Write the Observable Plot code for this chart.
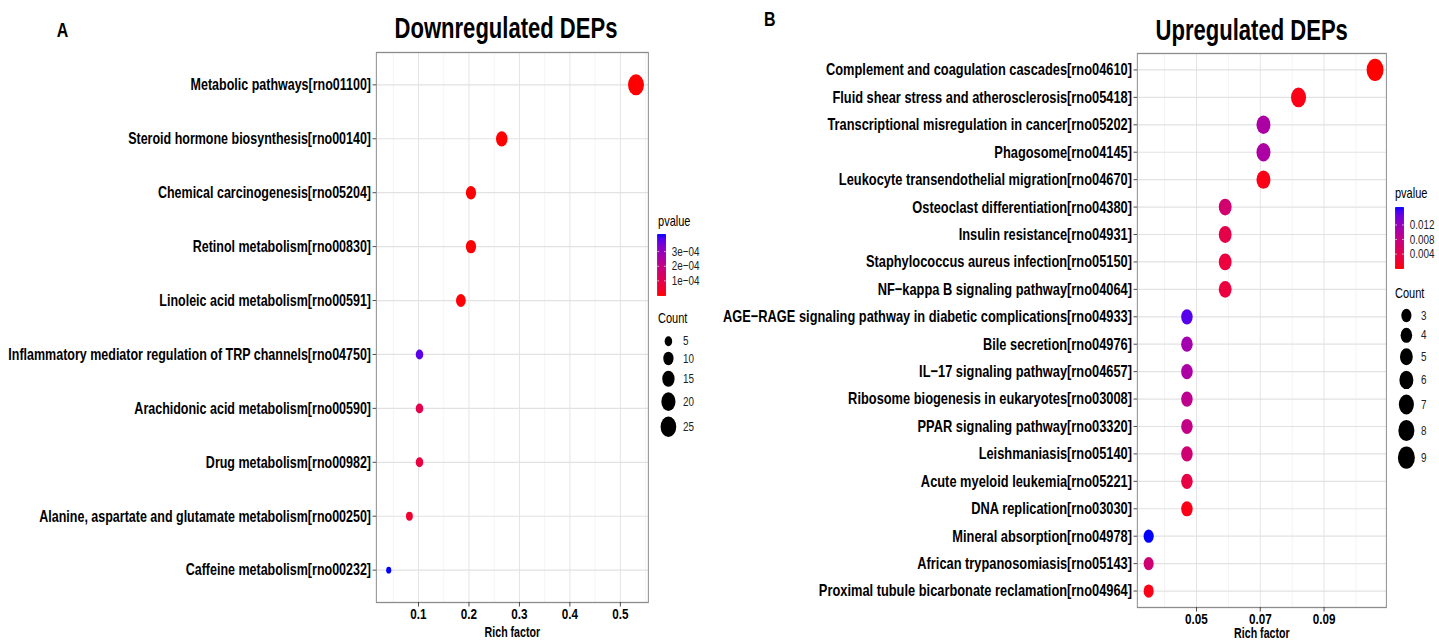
<!DOCTYPE html>
<html><head><meta charset="utf-8">
<script src="https://cdn.jsdelivr.net/npm/d3@7"></script>
<script src="https://cdn.jsdelivr.net/npm/@observablehq/plot@0.6"></script>
<style>
html,body{margin:0;padding:0;background:#fff;overflow:hidden;width:1439px;height:641px;}
#stage{position:absolute;left:0;top:0;width:1893px;height:641px;transform:scaleX(0.76);transform-origin:0 0;font-family:"Liberation Sans",Arial,sans-serif;color:#000;}
.abs{position:absolute;white-space:nowrap;line-height:1;}
.c{transform:translate(-50%,-50%);}
.m{transform:translate(0,-50%);}
</style></head><body><div id="stage"></div>
<script>
// ---------- data: Downregulated DEPs (panel A) ----------
const downPathways = [
  "Metabolic pathways[rno01100]",
  "Steroid hormone biosynthesis[rno00140]",
  "Chemical carcinogenesis[rno05204]",
  "Retinol metabolism[rno00830]",
  "Linoleic acid metabolism[rno00591]",
  "Inflammatory mediator regulation of TRP channels[rno04750]",
  "Arachidonic acid metabolism[rno00590]",
  "Drug metabolism[rno00982]",
  "Alanine, aspartate and glutamate metabolism[rno00250]",
  "Caffeine metabolism[rno00232]"
];
const downRich = [0.531, 0.265, 0.204, 0.204, 0.184, 0.102, 0.102, 0.102, 0.082, 0.041];
const downCount = [26, 13, 10, 10, 9, 5, 5, 5, 4, 2];
const downPvalue = [1e-12, 1e-9, 2e-6, 2e-6, 4e-6, 3.8e-4, 1.0e-4, 8e-5, 5e-5, 4.17e-4];
const downXTicks = [0.1, 0.2, 0.3, 0.4, 0.5];
const downXMinor = [0.05, 0.15, 0.25, 0.35, 0.45, 0.55];
const downPTicks = [1e-4, 2e-4, 3e-4];
const downCountTicks = [5, 10, 15, 20, 25];

// ---------- data: Upregulated DEPs (panel B) ----------
const upPathways = [
  "Complement and coagulation cascades[rno04610]",
  "Fluid shear stress and atherosclerosis[rno05418]",
  "Transcriptional misregulation in cancer[rno05202]",
  "Phagosome[rno04145]",
  "Leukocyte transendothelial migration[rno04670]",
  "Osteoclast differentiation[rno04380]",
  "Insulin resistance[rno04931]",
  "Staphylococcus aureus infection[rno05150]",
  "NF\u2212kappa B signaling pathway[rno04064]",
  "AGE\u2212RAGE signaling pathway in diabetic complications[rno04933]",
  "Bile secretion[rno04976]",
  "IL\u221217 signaling pathway[rno04657]",
  "Ribosome biogenesis in eukaryotes[rno03008]",
  "PPAR signaling pathway[rno03320]",
  "Leishmaniasis[rno05140]",
  "Acute myeloid leukemia[rno05221]",
  "DNA replication[rno03030]",
  "Mineral absorption[rno04978]",
  "African trypanosomiasis[rno05143]",
  "Proximal tubule bicarbonate reclamation[rno04964]"
];
const upRich = [0.106, 0.082, 0.071, 0.071, 0.071, 0.059, 0.059, 0.059, 0.059,
  0.047, 0.047, 0.047, 0.047, 0.047, 0.047, 0.047, 0.047, 0.035, 0.035, 0.035];
const upCount = [9, 7, 6, 6, 6, 5, 5, 5, 5, 4, 4, 4, 4, 4, 4, 4, 4, 3, 3, 3];
const upPvalue = [0.00005, 0.0007, 0.0105, 0.0105, 0.0007, 0.0065, 0.0039, 0.0030, 0.0030,
  0.0155, 0.0112, 0.0105, 0.0088, 0.0082, 0.0068, 0.0035, 0.0007, 0.0168, 0.0068, 0.0007];
const upXTicks = [0.05, 0.07, 0.09];
const upXMinor = [0.04, 0.06, 0.08, 0.10];
const upPTicks = [0.004, 0.008, 0.012];
const upCountTicks = [3, 4, 5, 6, 7, 8, 9];

// ---------- rendering ----------
const stage = document.getElementById("stage");
const FONT = '"Liberation Sans", Arial, sans-serif';
const svgStyle = {background: "transparent", fontFamily: FONT, overflow: "visible", color: "#000"};

function place(node, left, top) {
  node.style.position = "absolute";
  node.style.left = left + "px";
  node.style.top = top + "px";
  stage.appendChild(node);
}
function label(text, x, y, cls, size, weight) {
  const d = document.createElement("div");
  d.className = "abs " + cls;
  d.textContent = text;
  d.style.left = x + "px";
  d.style.top = y + "px";
  d.style.fontSize = size + "px";
  d.style.fontWeight = weight;
  stage.appendChild(d);
}

function scalesFor(p, count, rRange) {
  return {
    color: {type: "linear", domain: d3.extent(p), range: ["red", "blue"], interpolate: d3.interpolateLab},
    r: {type: "pow", exponent: 0.5, domain: d3.extent(count), range: rRange}
  };
}

function panel(cfg) {
  const data = cfg.names.map((n, i) => ({name: n, rich: cfg.rich[i], count: cfg.count[i], p: cfg.p[i]}));
  const [lo, hi] = d3.extent(cfg.rich);
  const pad = (hi - lo) * 0.05;
  const dom = [lo - pad, hi + pad];
  const minor = cfg.minor.filter(v => v >= dom[0] && v <= dom[1]);
  const sc = scalesFor(cfg.p, cfg.count, cfg.rRange);
  return Plot.plot({
    width: cfg.W, height: 641,
    marginLeft: cfg.ml, marginRight: cfg.mr, marginTop: cfg.mt, marginBottom: cfg.mb,
    style: svgStyle,
    x: {domain: dom},
    y: {type: "point", domain: cfg.names, padding: 0.6, round: false},
    color: sc.color,
    r: sc.r,
    marks: [
      Plot.ruleX(minor, {stroke: "#f0f0f0", strokeWidth: 0.8}),
      Plot.ruleX(cfg.ticks, {stroke: "#e2e2e2", strokeWidth: 1.2}),
      Plot.ruleY(cfg.names, {stroke: "#e2e2e2", strokeWidth: 1.2}),
      Plot.dot(data, {x: "rich", y: "name", r: "count", fill: "p"}),
      Plot.frame({stroke: "#8c8c8c", strokeWidth: 1.3}),
      Plot.axisY({tickSize: 4.5, tickPadding: 2.5, fontSize: cfg.yFont, fontWeight: "bold", label: null, stroke: "#333", fill: "#000"}),
      Plot.axisX({ticks: cfg.ticks, tickFormat: d => String(d), tickSize: 4.5, tickPadding: cfg.tickPad, fontSize: 15.4, fontWeight: "bold", label: null, stroke: "#333", fill: "#000"}),
      Plot.text(["Rich factor"], {frameAnchor: "bottom", dy: cfg.labelDy, fontSize: 14, fontWeight: "bold", fill: "#000"})
    ]
  });
}

function colorbar(p, count, rRange, ticks, fmt) {
  const sc = scalesFor(p, count, rRange);
  const [a, b] = d3.extent(p);
  const bins = d3.range(160).map(i => a + (b - a) * (i + 0.5) / 160);
  const bh = 61;
  return Plot.plot({
    width: 70, height: bh, margin: 0,
    style: svgStyle,
    x: {type: "identity", axis: null},
    y: {domain: [a, b], range: [bh, 0], axis: null},
    color: sc.color,
    marks: [
      Plot.ruleY(bins, {y: d => d, x1: 0, x2: 11, stroke: d => d, strokeWidth: 1.2}),
      Plot.ruleY(ticks, {y: d => d, x1: 0, x2: 2.2, stroke: "white", strokeWidth: 0.8}),
      Plot.ruleY(ticks, {y: d => d, x1: 8.8, x2: 11, stroke: "white", strokeWidth: 0.8}),
      Plot.text(ticks, {y: d => d, x: 18.4, text: fmt, textAnchor: "start", fontSize: 13, fill: "#222"})
    ]
  });
}

function sizeLegend(p, count, rRange, ticks, y0) {
  const sc = scalesFor(p, count, rRange);
  const rs = d3.scalePow().exponent(0.5).domain(sc.r.domain).range(rRange);
  let y = y0;
  const items = ticks.map((c, i) => {
    if (i > 0) y += rs(ticks[i - 1]) + rs(c) + 5.5;
    return {count: c, y};
  });
  return Plot.plot({
    width: 60, height: 641, margin: 0,
    style: svgStyle,
    x: {type: "identity", axis: null}, y: {type: "identity", axis: null},
    r: sc.r,
    marks: [
      Plot.dot(items, {x: 14, y: "y", r: "count", fill: "black"}),
      Plot.text(items, {x: 33.3, y: "y", text: d => String(d.count), textAnchor: "start", fontSize: 13, fill: "#222"})
    ]
  });
}

// Panel A
const rA = [3.35, 10.5];
place(panel({names: downPathways, rich: downRich, count: downCount, p: downPvalue,
  W: 900, ml: 494.7, mr: 47.4, mt: 52, mb: 39, ticks: downXTicks, minor: downXMinor, rRange: rA,
  labelDy: 34, tickPad: 1.5, yFont: 16.45}), 0, 0);
// Panel B
const rB = [6.65, 11.15];
place(panel({names: upPathways, rich: upRich, count: upCount, p: upPvalue,
  W: 993, ml: 596, mr: 69.3, mt: 53, mb: 34, ticks: upXTicks, minor: upXMinor, rRange: rB,
  labelDy: 30.5, tickPad: 1, yFont: 16.9}), 900, 0);

// Legends A
const fmtExp = v => v.toExponential(0).replace("e-", "e\u22120");
label("pvalue", 865.8, 221, "m", 14.5, "normal");
place(colorbar(downPvalue, downCount, rA, downPTicks, fmtExp), 865.4, 234);
label("Count", 865.8, 318, "m", 14.5, "normal");
place(sizeLegend(downPvalue, downCount, rA, downCountTicks, 340.7), 865.4, 0);

// Legends B
const fmtDec = d3.format(".3f");
label("pvalue", 1835.5, 193, "m", 14.5, "normal");
place(colorbar(upPvalue, upCount, rB, upPTicks, fmtDec), 1835.5, 207);
label("Count", 1835.5, 292.7, "m", 14.5, "normal");
place(sizeLegend(upPvalue, upCount, rB, upCountTicks, 315), 1836, 0);

// Titles and panel letters
label("A", 82.2, 29, "c", 21, "bold");
label("Downregulated DEPs", 665.8, 28, "c", 29, "bold");
label("B", 1013, 18, "c", 21, "bold");
label("Upregulated DEPs", 1647, 30, "c", 29, "bold");
</script>
</body></html>
